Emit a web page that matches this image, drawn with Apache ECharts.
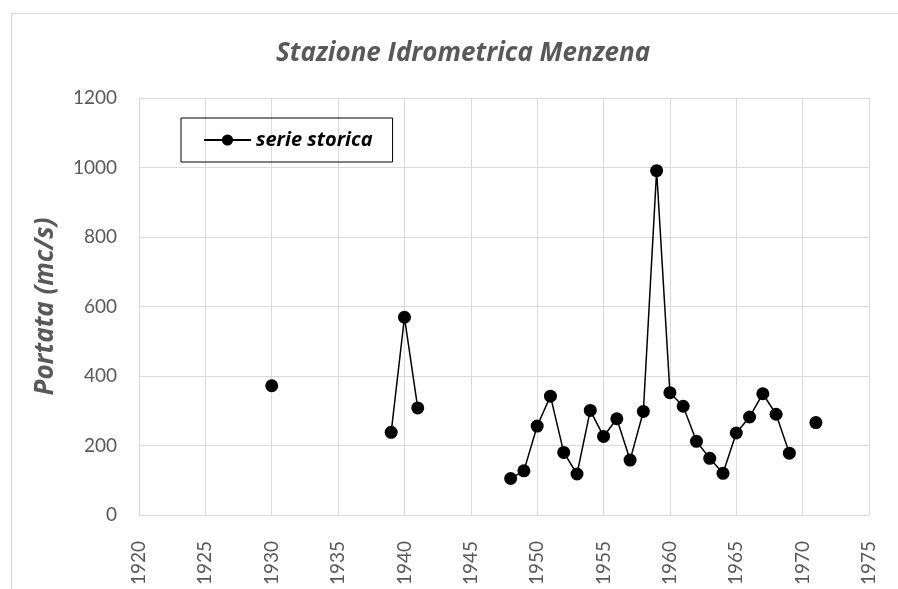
<!DOCTYPE html>
<html>
<head>
<meta charset="utf-8">
<title>Stazione Idrometrica Menzena</title>
<script src="https://cdn.jsdelivr.net/npm/echarts@6/dist/echarts.min.js"></script>
<style>
  html, body { margin: 0; padding: 0; background: #fff; }
  #chart { width: 898px; height: 589px; }
</style>
</head>
<body>
<div id="chart"></div>
<script>
// anni di osservazione (null = anno mancante, la linea si interrompe)
var years = [1930, 1931, 1932, 1933, 1934, 1935, 1936, 1937, 1938, 1939,
  1940, 1941, 1942, 1943, 1944, 1945, 1946, 1947, 1948, 1949,
  1950, 1951, 1952, 1953, 1954, 1955, 1956, 1957, 1958, 1959,
  1960, 1961, 1962, 1963, 1964, 1965, 1966, 1967, 1968, 1969,
  1970, 1971];
var portata = [372, null, null, null, null, null, null, null, null, 238,
  569, 308, null, null, null, null, null, null, 105, 127,
  256, 342, 180, 118, 301, 226, 277, 158, 298, 991,
  352, 313, 212, 163, 120, 236, 282, 349, 290, 178,
  null, 266];
var seriesName = "serie storica";

var chart = echarts.init(document.getElementById("chart"));

var grey = "#595959";
var gridColor = "#d9d9d9";
var font = "Lato, 'Open Sans', sans-serif";
var boldFont = "'Open Sans', Lato, sans-serif";

var option = {
  backgroundColor: "#fff",
  animation: false,
  graphic: [
    {
      type: "rect",
      left: 9,
      top: 11,
      shape: { width: 920, height: 620 },
      style: { fill: "none", stroke: gridColor, lineWidth: 1 },
      silent: true,
    },
  ],
  title: {
    text: "Stazione Idrometrica Menzena",
    left: 276,
    top: 41,
    padding: 0,
    textStyle: {
      color: grey,
      fontFamily: boldFont,
      fontSize: 26,
      fontWeight: "bold",
      fontStyle: "italic",
    },
  },
  legend: {
    data: [seriesName],
    left: 181,
    top: 118,
    padding: [12, 20, 12, 22],
    itemWidth: 47,
    itemHeight: 14,
    itemGap: 5,
    borderColor: "#000",
    borderWidth: 1,
    borderRadius: 0,
    textStyle: {
      color: "#000",
      fontFamily: boldFont,
      fontSize: 20,
      fontWeight: "bold",
      fontStyle: "italic",
    },
  },
  grid: {
    left: 139,
    right: 29,
    top: 98,
    bottom: 74,
  },
  xAxis: {
    type: "value",
    min: 1920,
    max: 1975,
    interval: 5,
    axisLine: { show: true, lineStyle: { color: gridColor, width: 1 } },
    axisTick: { show: false },
    splitLine: { show: true, lineStyle: { color: gridColor, width: 1 } },
    axisLabel: {
      rotate: 90,
      margin: 26,
      color: grey,
      fontFamily: font,
      fontSize: 19,
      formatter: function (v) { return String(v); },
    },
  },
  yAxis: {
    type: "value",
    min: 0,
    max: 1200,
    interval: 200,
    name: "Portata (mc/s)",
    nameLocation: "middle",
    nameGap: 80,
    nameTextStyle: {
      color: grey,
      fontFamily: boldFont,
      fontSize: 26,
      fontWeight: "bold",
      fontStyle: "italic",
    },
    axisLine: { show: true, lineStyle: { color: gridColor, width: 1 } },
    axisTick: { show: false },
    splitLine: { show: true, lineStyle: { color: gridColor, width: 1 } },
    axisLabel: {
      margin: 22,
      color: grey,
      fontFamily: font,
      fontSize: 19,
      formatter: function (v) { return String(v); },
    },
  },
  series: [
    {
      name: seriesName,
      type: "line",
      data: years.map(function (y, i) {
        return [y, portata[i] === null ? "-" : portata[i]];
      }),
      connectNulls: false,
      symbol: "circle",
      symbolSize: 13,
      showSymbol: true,
      lineStyle: { color: "#000", width: 1.5 },
      itemStyle: { color: "#000" },
    },
  ],
};

chart.setOption(option);
</script>
</body>
</html>
